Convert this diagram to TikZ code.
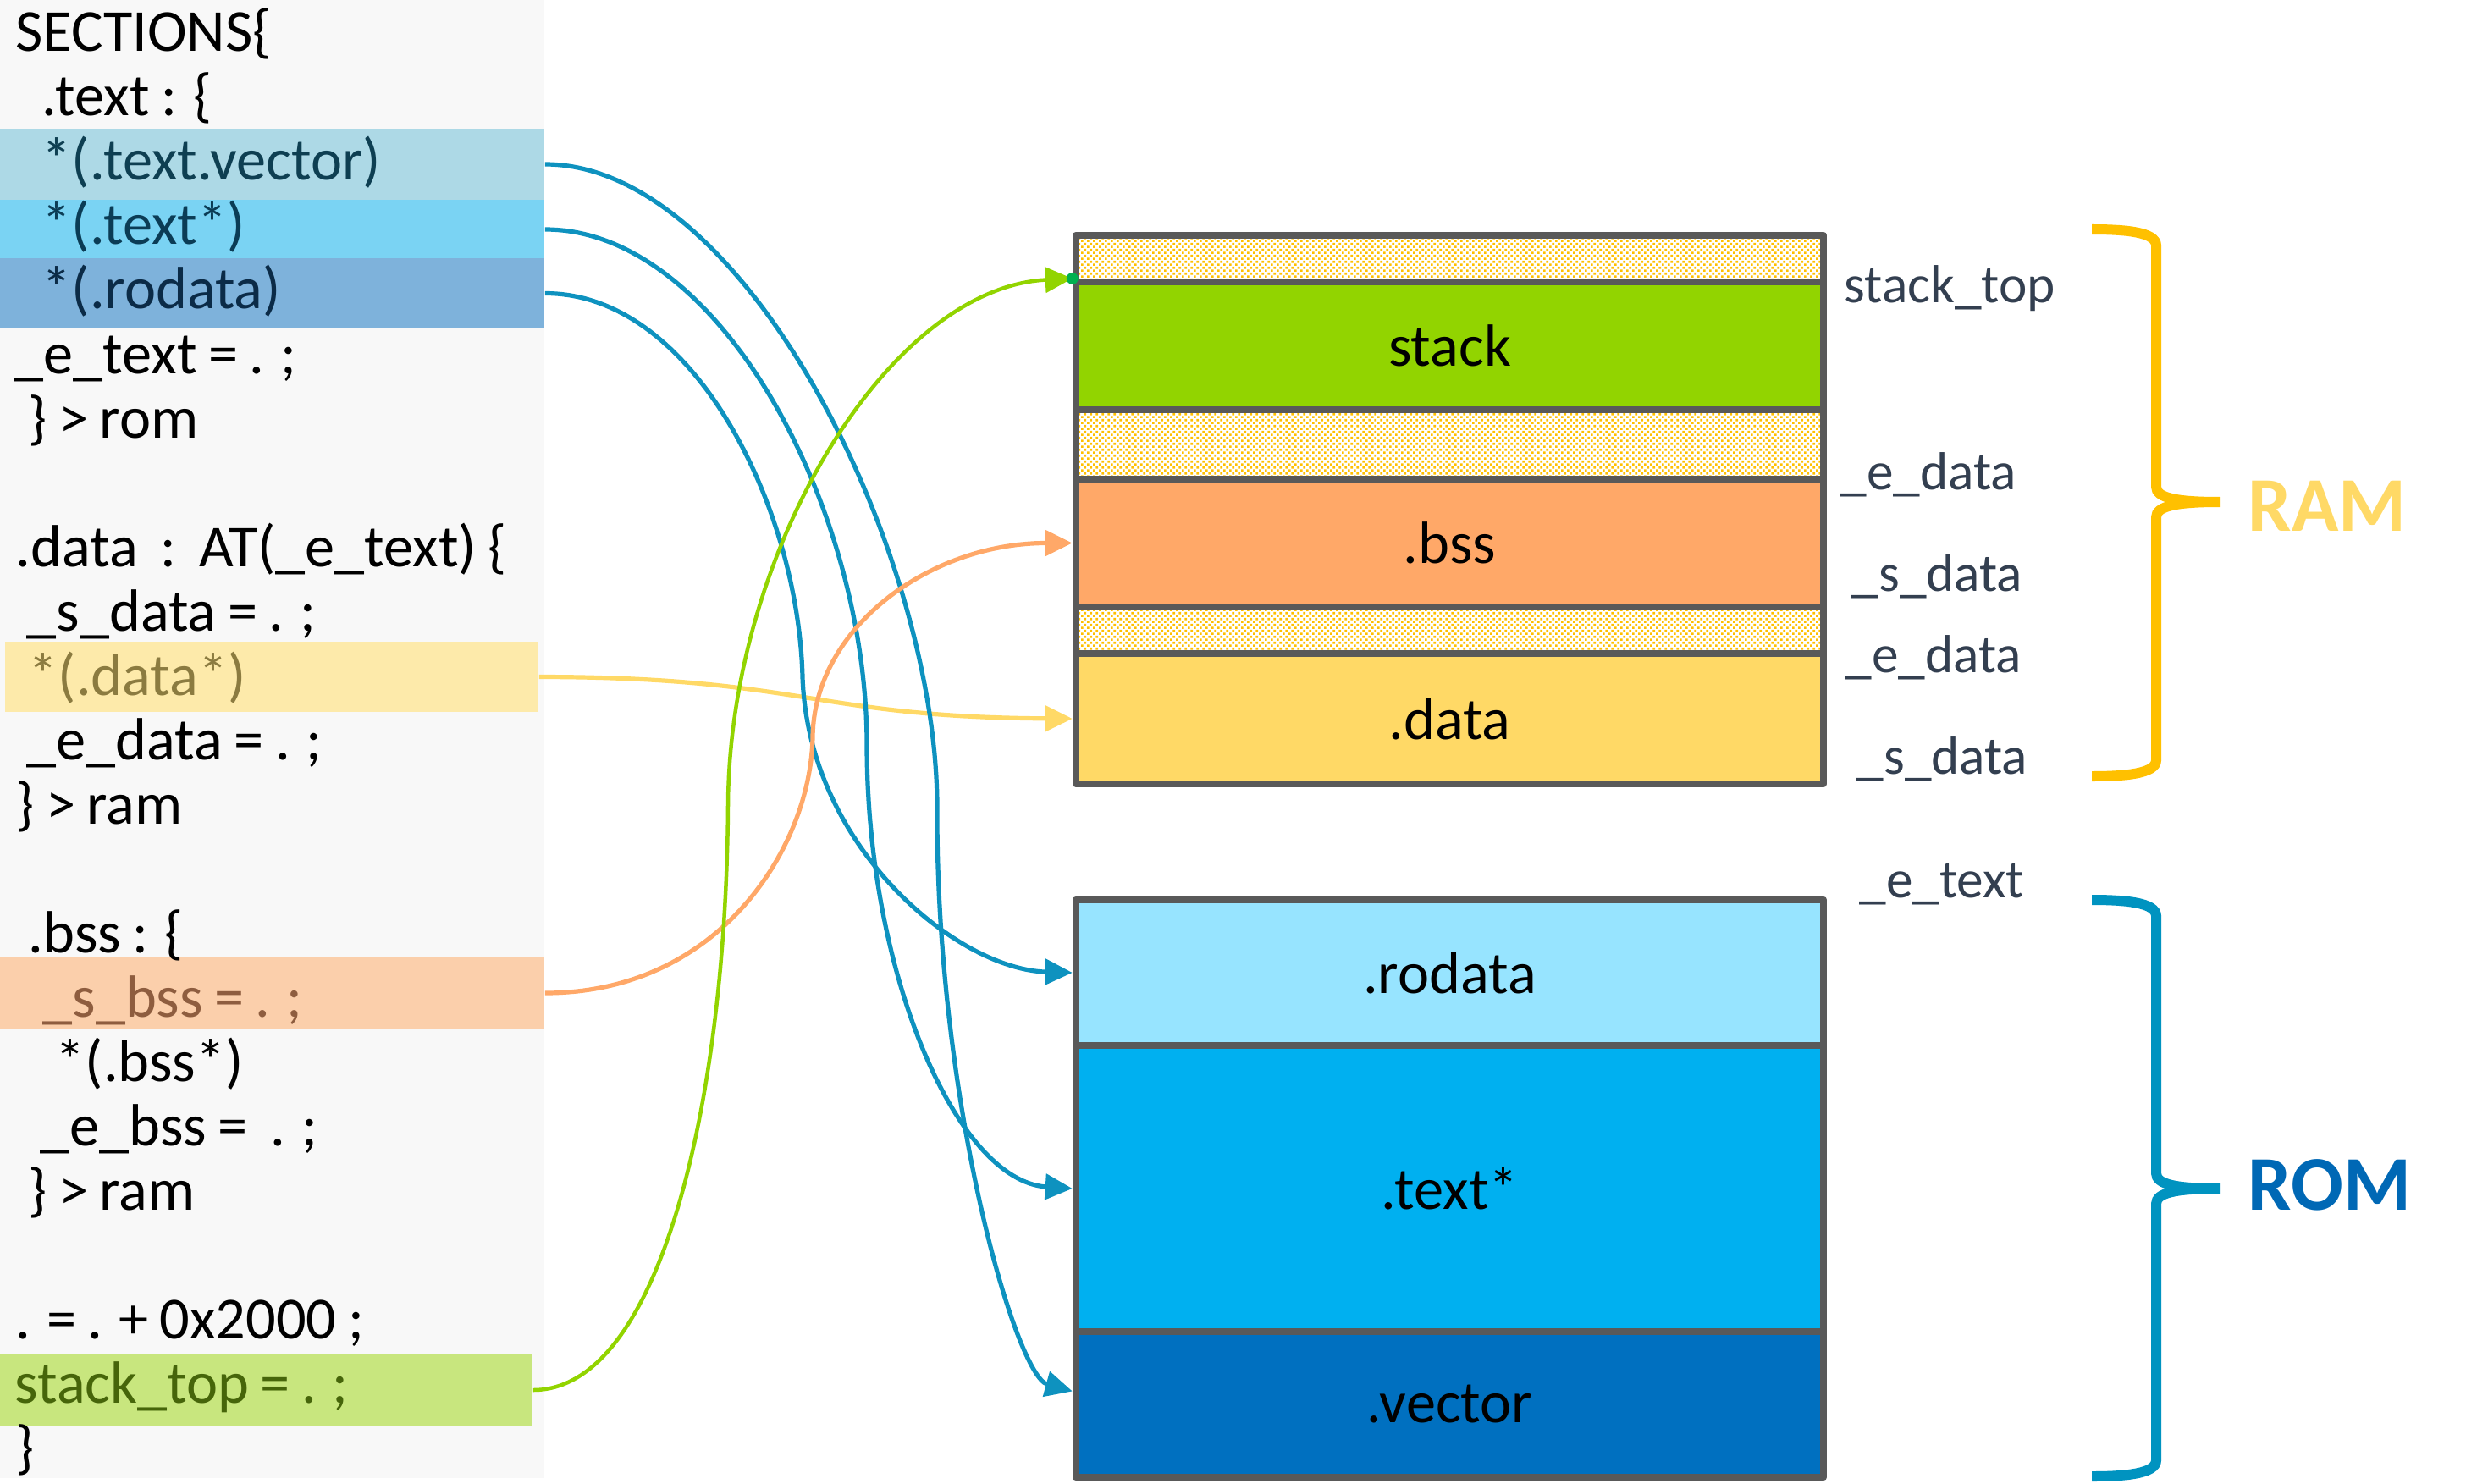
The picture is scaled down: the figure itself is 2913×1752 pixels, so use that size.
\documentclass[tikz,border=0pt]{standalone}
\usepackage{fontspec}
\setmainfont{Carlito}
\newfontfamily\codefont[WordSpace=0.85]{Carlito}
\usetikzlibrary{arrows.meta,patterns}
\definecolor{panelbg}{HTML}{F8F8F8}
\definecolor{tvband}{HTML}{ADD9E6}
\definecolor{ttband}{HTML}{7AD3F3}
\definecolor{roband}{HTML}{7EB2DB}
\definecolor{databand}{HTML}{FDEAAA}
\definecolor{bssband}{HTML}{FBCFAB}
\definecolor{stopband}{HTML}{C8E67E}
\definecolor{tvtxt}{HTML}{0E3F52}
\definecolor{tttxt}{HTML}{0B3C55}
\definecolor{rotxt}{HTML}{0B2B47}
\definecolor{datatxt}{HTML}{8B7B40}
\definecolor{bsstxt}{HTML}{8E5D3F}
\definecolor{stoptxt}{HTML}{46650A}
\definecolor{boxgray}{HTML}{595959}
\definecolor{dotc}{HTML}{FFC000}
\definecolor{stackc}{HTML}{92D400}
\definecolor{bssc}{HTML}{FFA868}
\definecolor{datac}{HTML}{FFD966}
\definecolor{rodc}{HTML}{97E4FF}
\definecolor{textc}{HTML}{00B0F0}
\definecolor{vecc}{HTML}{0070C0}
\definecolor{addrc}{HTML}{333F50}
\definecolor{bluel}{HTML}{0E92BF}
\definecolor{greenl}{HTML}{92D400}
\definecolor{orangel}{HTML}{FFA868}
\definecolor{yellowl}{HTML}{FFD966}
\definecolor{dotgreen}{HTML}{00B050}
\definecolor{rambrace}{HTML}{FFC000}
\definecolor{ramtxt}{HTML}{FFD966}
\definecolor{rombrace}{HTML}{0093C0}
\definecolor{romtxt}{HTML}{0068B5}
\pgfdeclarepatternformonly{finedots}{\pgfqpoint{0pt}{0pt}}{\pgfqpoint{2.1pt}{2.1pt}}{\pgfqpoint{2.1pt}{2.1pt}}{%
  \pgfpathrectangle{\pgfqpoint{0pt}{0pt}}{\pgfqpoint{0.8pt}{0.8pt}}%
  \pgfpathrectangle{\pgfqpoint{1.05pt}{1.05pt}}{\pgfqpoint{0.8pt}{0.8pt}}%
  \pgfusepath{fill}}
\tikzset{
  codetxt/.style={anchor=base west, inner sep=0pt, font=\codefont\fontsize{20}{24}\selectfont},
  band/.style={inner sep=0pt, draw=none, minimum width=6.43cm},
  membox/.style={draw=boxgray, line width=0.08cm, inner sep=0pt, minimum width=8.83cm,
    font=\fontsize{20}{24}\selectfont, line join=round},
  hatchbox/.style={membox, pattern=finedots, pattern color=dotc, preaction={fill=white}},
  addr/.style={anchor=base west, inner sep=0pt, text=addrc, font=\fontsize{18}{22}\selectfont},
  conn/.style={line width=0.052cm, -{Triangle[length=0.32cm,width=0.30cm]}},
  bracepath/.style={line width=0.12cm, line cap=butt},
  memname/.style={anchor=base west, inner sep=0pt, font=\bfseries\fontsize{26}{30}\selectfont},
}
\begin{document}
\begin{tikzpicture}[x=0.01cm,y=-0.01cm]
\useasboundingbox (0,0) rectangle (2913,1752);
% code panel
\fill[panelbg] (0,0) rectangle (643,1746);
\node[band, fill=tvband, minimum height=0.84cm] (tv) at (321.5,194) {};
\node[band, fill=ttband, minimum height=0.70cm] (tt) at (321.5,271) {};
\node[band, fill=roband, minimum height=0.83cm] (ro) at (321.5,346.5) {};
\node[band, fill=databand, minimum width=6.30cm, minimum height=0.83cm] (db) at (321,799.5) {};
\node[band, fill=bssband, minimum height=0.84cm] (sb) at (321.5,1173) {};
\node[band, fill=stopband, minimum width=6.29cm, minimum height=0.84cm] (st) at (314.5,1642) {};
% code text
\node[codetxt] (l0) at (18,61) {SECTIONS\{};
\node[codetxt] (l1) at (49,137) {.text : \{};
\node[codetxt, text=tvtxt] (l2) at (49,213) {*(.text.vector)};
\node[codetxt, text=tttxt] (l3) at (49,289) {*(.text*)};
\node[codetxt, text=rotxt] (l4) at (49,365) {*(.rodata)};
\node[codetxt] (l5) at (16,441) {\_e\_text = . ;};
\node[codetxt] (l6) at (33,517) {\} > rom};
\node[codetxt] (l8) at (18,669) {.data\hspace{0.38em}:\hspace{0.38em}AT(\_e\_text) \{};
\node[codetxt] (l9) at (31,745) {\_s\_data = . ;};
\node[codetxt, text=datatxt] (l10) at (33,821) {*(.data*)};
\node[codetxt] (l11) at (31,897) {\_e\_data = . ;};
\node[codetxt] (l12) at (18,973) {\} > ram};
\node[codetxt] (l14) at (33,1125) {.bss : \{};
\node[codetxt, text=bsstxt] (l15) at (50,1201) {\_s\_bss = . ;};
\node[codetxt] (l16) at (65,1277) {*(.bss*)};
\node[codetxt] (l17) at (47,1353) {\_e\_bss =\ \ . ;};
\node[codetxt] (l18) at (33,1429) {\} > ram};
\node[codetxt] (l20) at (18,1581) {. = . + 0x2000 ;};
\node[codetxt, text=stoptxt] (l21) at (17,1657) {stack\_top = . ;};
\node[codetxt] (l22) at (18,1733) {\}};
% RAM box
\node[hatchbox, minimum height=0.55cm] (h1) at (1712.5,305.5) {};
\node[membox, fill=stackc, minimum height=1.51cm] (stack) at (1712.5,408.5) {stack};
\node[hatchbox, minimum height=0.82cm] (h2) at (1712.5,525) {};
\node[membox, fill=bssc, minimum height=1.51cm] (bss) at (1712.5,641.5) {.bss};
\node[hatchbox, minimum height=0.55cm] (h3) at (1712.5,744.5) {};
\node[membox, fill=datac, minimum height=1.54cm] (data) at (1712.5,849) {.data};
% ROM box
\node[membox, fill=rodc, minimum height=1.72cm] (rod) at (1712.5,1149) {.rodata};
\node[membox, fill=textc, minimum height=3.38cm] (txt) at (1712.5,1404) {.text*};
\node[membox, fill=vecc, minimum height=1.72cm] (vec) at (1712.5,1659) {.vector};
% address labels
\node[addr] (a1) at (2178,357) {stack\_top};
\node[addr] (a2) at (2173,578) {\_e\_data};
\node[addr] (a3) at (2187,698) {\_s\_data};
\node[addr] (a4) at (2179,794) {\_e\_data};
\node[addr] (a5) at (2193,914) {\_s\_data};
\node[addr] (a6) at (2196,1060) {\_e\_text};
% braces
\draw[bracepath, rambrace] (2471,271) .. controls (2510,271) and (2547,274) .. (2547,290)
  -- (2547,575) .. controls (2547,588) and (2570,593) .. (2622,593)
  .. controls (2570,593) and (2547,598) .. (2547,611)
  -- (2547,898) .. controls (2547,914) and (2510,917) .. (2471,917);
\draw[bracepath, rombrace] (2471,1063) .. controls (2510,1063) and (2547,1066) .. (2547,1082)
  -- (2547,1386) .. controls (2547,1399) and (2570,1404) .. (2622,1404)
  .. controls (2570,1404) and (2547,1409) .. (2547,1422)
  -- (2547,1725) .. controls (2547,1741) and (2510,1744) .. (2471,1744);
\node[memname, text=ramtxt] (ram) at (2655,627) {RAM};
\node[memname, text=romtxt] (rom) at (2655,1429) {ROM};
% connectors
\draw[conn, yellowl] (db.east) .. controls (950,800) and (960,847) .. (data.west);
\draw[conn, bluel] (tv.east) .. controls (880,194) and (1105,650) .. (1107,950)
  .. controls (1105,1300) and (1200,1625) .. (vec.178);
\draw[conn, bluel] (tt.east) .. controls (850,271) and (1024,600) .. (1024,880)
  .. controls (1024,1150) and (1130,1395) .. (txt.west);
\draw[conn, bluel] (ro.east) .. controls (820,346.5) and (943,600) .. (948,800)
  .. controls (955,1000) and (1130,1145) .. (rod.west);
\draw[conn, orangel] (sb.east) .. controls (850,1173) and (958,1000) .. (960,870)
  .. controls (962,740) and (1100,641.5) .. (bss.west);
\draw[conn, greenl, line width=0.045cm] (st.east) .. controls (780,1642) and (858,1300) .. (860,950)
  .. controls (862,650) and (1050,340) .. (stack.north west);
\fill[dotgreen] (stack.north west) circle (7);
\end{tikzpicture}
\end{document}
